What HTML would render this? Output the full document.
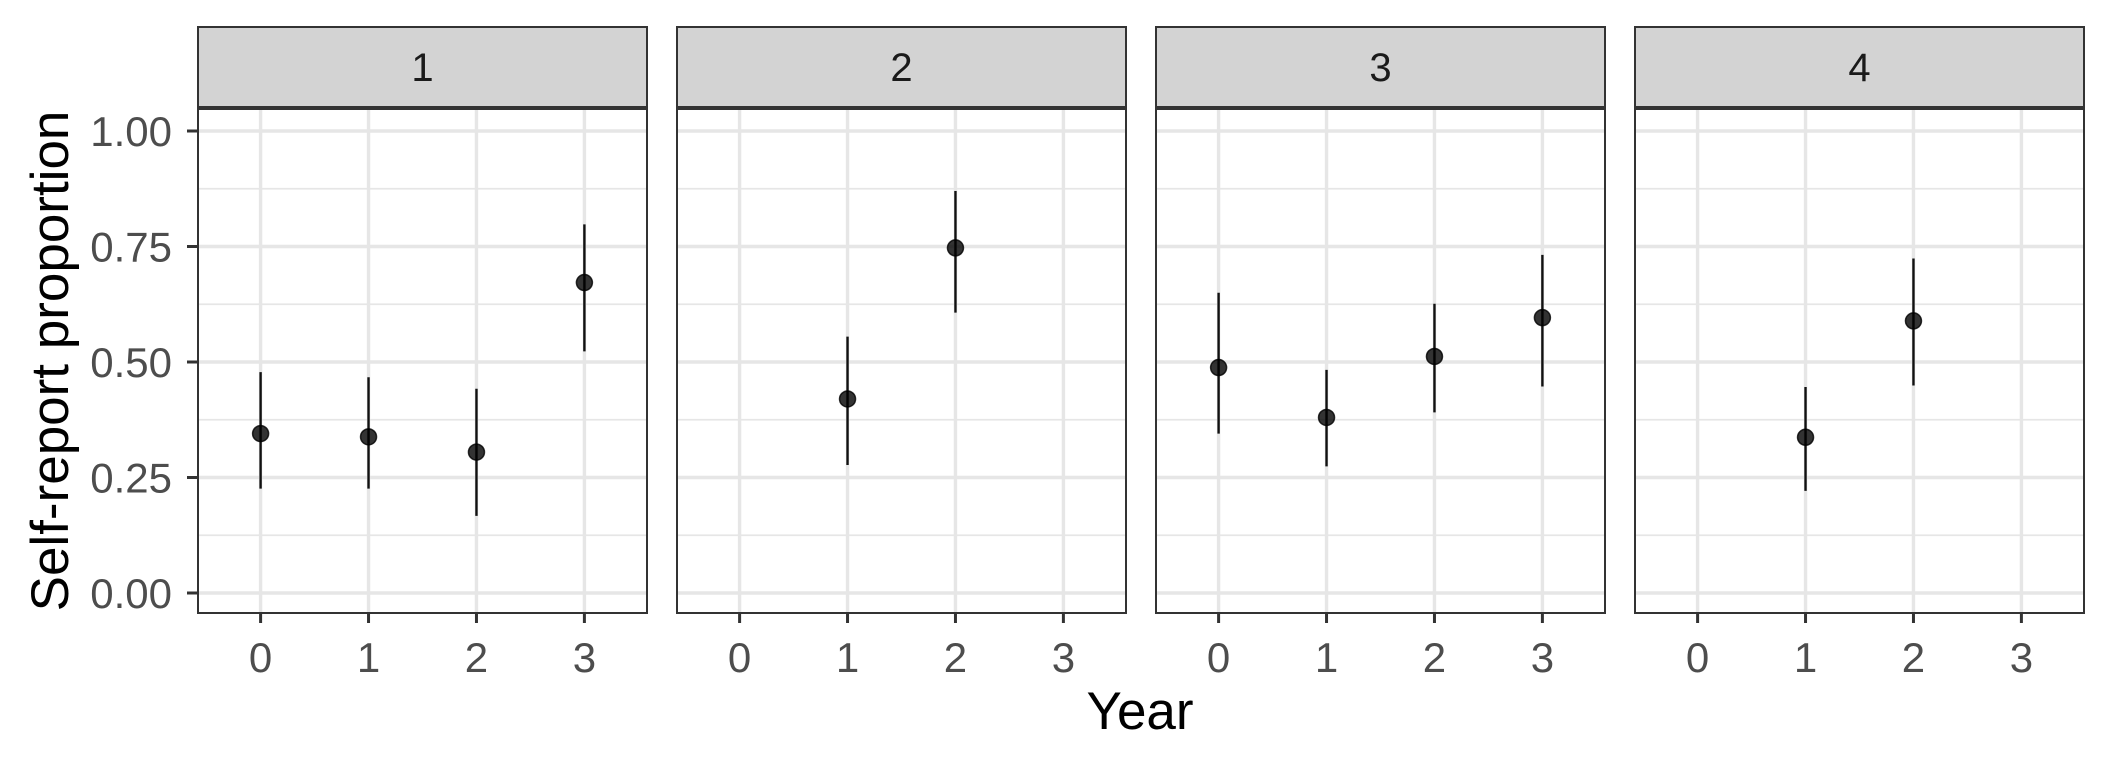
<!DOCTYPE html>
<html><head><meta charset="utf-8"><style>
html,body{margin:0;padding:0;background:#fff;}
svg{display:block;font-family:"Liberation Sans",Arial,sans-serif;}
</style></head><body>
<svg id="chart" width="2112" height="768" viewBox="0 0 2112 768"></svg>
<script>
const facetLabels = ["1","2","3","4"];
const xTicks = [0,1,2,3];
const yTicks = [0,0.25,0.5,0.75,1];
const yTickLabels = ["0.00","0.25","0.50","0.75","1.00"];
const p1Years=[0,1,2,3], p1Mean=[0.345,0.338,0.305,0.672], p1Lo=[0.226,0.226,0.167,0.523], p1Hi=[0.478,0.467,0.442,0.798];
const p2Years=[1,2], p2Mean=[0.42,0.747], p2Lo=[0.277,0.607], p2Hi=[0.555,0.87];
const p3Years=[0,1,2,3], p3Mean=[0.488,0.38,0.512,0.596], p3Lo=[0.345,0.274,0.391,0.447], p3Hi=[0.65,0.483,0.626,0.732];
const p4Years=[1,2], p4Mean=[0.337,0.589], p4Lo=[0.221,0.449], p4Hi=[0.446,0.724];
const panels=[[p1Years,p1Mean,p1Lo,p1Hi],[p2Years,p2Mean,p2Lo,p2Hi],[p3Years,p3Mean,p3Lo,p3Hi],[p4Years,p4Mean,p4Lo,p4Hi]];

const NS="http://www.w3.org/2000/svg";
const svg=document.getElementById('chart');
function mk(tag,attrs,parent){const e=document.createElementNS(NS,tag);for(const k in attrs)e.setAttribute(k,attrs[k]);(parent||svg).appendChild(e);return e;}
const PW=449, PTOP=109, PBOT=613, STOP=27, SBOT=107;
const lefts=[198,677,1156,1635];
const xMin=-0.58, xMax=3.58;
function yS(v){return 593-v*462;}
function xS(p,v){return lefts[p]+(v-xMin)/(xMax-xMin)*PW;}

panels.forEach((pd,p)=>{
  const g=mk('g',{});
  
  
  const L=lefts[p];
  const s=mk('rect',{x:L,y:STOP,width:PW,height:SBOT-STOP,fill:'#d3d3d3',stroke:'#333',"stroke-width":2},g);
  
  
  const st=mk('text',{x:L+PW/2,y:(STOP+SBOT)/2+14,"text-anchor":'middle',"font-size":40,fill:'#1a1a1a'},g);
  st.textContent=facetLabels[p];
  
  
  for(let i=0;i<yTicks.length-1;i++){
    const v=(yTicks[i]+yTicks[i+1])/2;
    mk('line',{x1:L,x2:L+PW,y1:yS(v),y2:yS(v),stroke:'#e6e6e6',"stroke-width":1.8},g);
  }
  yTicks.forEach(v=>{
    const gl=mk('line',{x1:L,x2:L+PW,y1:yS(v),y2:yS(v),stroke:'#e6e6e6',"stroke-width":3.4},g);
    
    
  });
  xTicks.forEach((v,i)=>{
    const gl=mk('line',{x1:xS(p,v),x2:xS(p,v),y1:PTOP,y2:PBOT,stroke:'#e6e6e6',"stroke-width":3.4},g);
    
    
    mk('line',{x1:xS(p,v),x2:xS(p,v),y1:PBOT,y2:PBOT+10,stroke:'#333',"stroke-width":3},g);
    const t=mk('text',{x:xS(p,v),y:672,"text-anchor":'middle',"font-size":42,fill:'#4d4d4d'},g);
    t.textContent=String(xTicks[i]);
    
    
  });
  const [yrs,mn,lo,hi]=pd;
  yrs.forEach((yr,i)=>{
    const eb=mk('line',{x1:xS(p,yr),x2:xS(p,yr),y1:yS(lo[i]),y2:yS(hi[i]),stroke:'#111',"stroke-width":2.4},g);
    
    
    const c=mk('circle',{cx:xS(p,yr),cy:yS(mn[i]),r:8,fill:'#000',"fill-opacity":0.8,stroke:'#000',"stroke-opacity":0.8,"stroke-width":1.5},g);
    
    
  });
  const b=mk('rect',{x:L,y:PTOP,width:PW,height:PBOT-PTOP,fill:'none',stroke:'#333',"stroke-width":2},g);
  
  
});
yTicks.forEach((v,i)=>{
  mk('line',{x1:187,x2:198,y1:yS(v),y2:yS(v),stroke:'#333',"stroke-width":3});
  const t=mk('text',{x:172,y:yS(v)+15,"text-anchor":'end',"font-size":42,fill:'#4d4d4d'});
  t.textContent=yTickLabels[i];
  
  
});
const yt=mk('text',{x:0,y:0,transform:'translate(68,361) rotate(-90)',"text-anchor":'middle',"font-size":53,fill:'#000'});
yt.textContent='Self-report proportion';


const xt=mk('text',{x:1140,y:729,"text-anchor":'middle',"font-size":53,fill:'#000'});
xt.textContent='Year';


</script>
</body></html>
